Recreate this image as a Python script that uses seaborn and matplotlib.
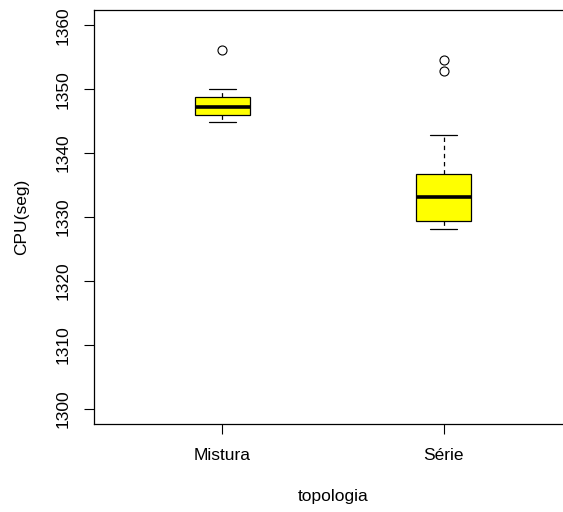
import numpy as np
import pandas as pd
import seaborn as sns
import matplotlib.pyplot as plt

# CPU time per topology
mistura = [1344.9, 1345.3, 1345.7, 1346.0, 1346.5, 1346.9, 1347.2,
           1347.6, 1348.2, 1348.8, 1349.5, 1350.1, 1356.1]
serie = [1328.2, 1328.6, 1329.0, 1329.4, 1330.5, 1331.8, 1333.1,
         1334.5, 1335.6, 1336.7, 1342.8, 1352.8, 1354.6]
categorias = ["Mistura", "Série"]
yticks = [1300, 1310, 1320, 1330, 1340, 1350, 1360]

df = pd.DataFrame({
    "topologia": [categorias[0]] * len(mistura) + [categorias[1]] * len(serie),
    "cpu": mistura + serie,
})

sns.set_style("ticks")
plt.rcParams["font.family"] = ["Liberation Sans", "DejaVu Sans"]
plt.rcParams["text.color"] = "black"
plt.rcParams["axes.labelcolor"] = "black"

fig = plt.figure(figsize=(5.63, 5.12), dpi=100)
# plot region runs slightly past the right edge of the picture (cropped, like the reference)
ax = fig.add_axes([94 / 563, (512 - 424) / 512, 478 / 563, 414 / 512])

sns.boxplot(data=df, x="topologia", y="cpu", order=categorias, ax=ax,
            color="yellow", saturation=1, width=0.25, linecolor="black",
            linewidth=0.9, fliersize=6.5,
            flierprops=dict(marker="o", markerfacecolor="none",
                            markeredgecolor="black", markeredgewidth=0.8),
            whiskerprops=dict(linestyle=(0, (3.5, 3)), color="black"),
            capprops=dict(color="black"),
            medianprops=dict(color="black", linewidth=2.6))

# R style caps: half the box width
for line in ax.lines:
    xd = np.asarray(line.get_xdata(), dtype=float)
    yd = np.asarray(line.get_ydata(), dtype=float)
    if len(xd) == 2 and yd[0] == yd[1] and line.get_linewidth() < 2:
        if abs(xd[1] - xd[0]) > 0.05:
            c = xd.mean()
            line.set_xdata([c - 0.0625, c + 0.0625])

ax.set_xlim(-0.58, 1.58)
ax.set_ylim(1297.6, 1362.4)
ax.set_yticks(yticks)
ax.set_yticklabels([str(t) for t in yticks], rotation=90, va="center")
ax.tick_params(axis="both", direction="out", length=7, width=0.8,
               labelsize=12.5, colors="black", pad=10)
for s in ax.spines.values():
    s.set_visible(True)
    s.set_color("black")
    s.set_linewidth(0.9)

ax.set_xlabel("topologia", fontsize=12.5, labelpad=19)
ax.set_ylabel("CPU(seg)", fontsize=12.5, labelpad=19)

fig.savefig("out.png", dpi=100)
